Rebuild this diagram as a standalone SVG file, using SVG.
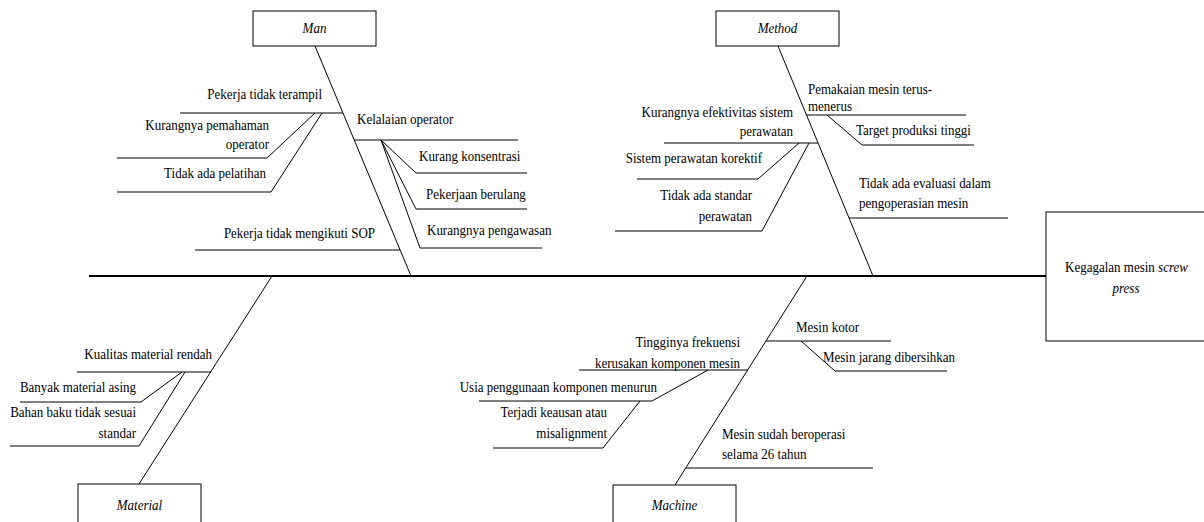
<svg xmlns="http://www.w3.org/2000/svg" width="1204" height="522" viewBox="0 0 1204 522">
<style>
text{font-family:'Liberation Serif','Times New Roman','DejaVu Serif',serif;font-size:15px;fill:#000}
.it{font-style:italic}
.e{text-anchor:end}
.m{text-anchor:middle}
.box{fill:#fff;stroke:#000;stroke-width:1}
.ln{stroke:#000;stroke-width:1;fill:none}
.main{stroke:#000;stroke-width:2;fill:none}
</style>
<rect width="1204" height="522" fill="#fff"/>
<g id="connectors">
<line class="main" x1="89" y1="276" x2="1046" y2="276"/>
<line class="ln" x1="315" y1="46" x2="411" y2="276"/>
<polyline class="ln" points="180,113 343,113"/>
<polyline class="ln" points="117,158 267,158 315,113"/>
<polyline class="ln" points="117,192 271,192 322,113"/>
<polyline class="ln" points="195,250 400,250"/>
<polyline class="ln" points="354,140 518,140"/>
<polyline class="ln" points="381,140 416,173 527,173"/>
<polyline class="ln" points="381,140 416,209 527,209"/>
<polyline class="ln" points="381,140 420,248 542,248"/>
<line class="ln" x1="778" y1="46" x2="873" y2="276"/>
<polyline class="ln" points="806,115 966,115"/>
<polyline class="ln" points="827,115 862,145 974,145"/>
<polyline class="ln" points="664,143 818,143"/>
<polyline class="ln" points="799,143 758,179 637,179"/>
<polyline class="ln" points="809,143 762,231 615,231"/>
<polyline class="ln" points="849,218 1008,218"/>
<line class="ln" x1="139" y1="484" x2="272" y2="276"/>
<polyline class="ln" points="77,372 211,372"/>
<polyline class="ln" points="182,372 141,402 20,402"/>
<polyline class="ln" points="185,372 139,446 10,446"/>
<line class="ln" x1="675" y1="485" x2="807" y2="276"/>
<polyline class="ln" points="766,341 891,341"/>
<polyline class="ln" points="801,341 835,371 947,371"/>
<polyline class="ln" points="579,370 748,370"/>
<polyline class="ln" points="708,370 652,401 479,401"/>
<polyline class="ln" points="640,401 603,448 493,448"/>
<polyline class="ln" points="686,468 873,468"/>
</g>
<g id="effect">
<rect class="box" x="1046" y="212" width="170" height="129"/>
<text class="m" transform="translate(1126.5 272) scale(0.867 1)">Kegagalan mesin <tspan class="it">screw</tspan></text>
<text class="m it" transform="translate(1126 293) scale(0.867 1)">press</text>
</g>
<g id="man">
<rect class="box" x="253" y="11" width="123" height="35"/>
<text class="m it" transform="translate(314.5 33) scale(0.867 1)">Man</text>
</g>
<g id="method">
<rect class="box" x="716" y="11" width="123" height="35"/>
<text class="m it" transform="translate(777.5 33) scale(0.867 1)">Method</text>
</g>
<g id="material">
<rect class="box" x="78" y="484" width="123" height="50"/>
<text class="m it" transform="translate(139.5 510) scale(0.867 1)">Material</text>
</g>
<g id="machine">
<rect class="box" x="613" y="485" width="123" height="50"/>
<text class="m it" transform="translate(674.5 510) scale(0.867 1)">Machine</text>
</g>
<g id="man-causes">
<text class="e" transform="translate(322 99) scale(0.867 1)">Pekerja tidak terampil</text>
<text class="e" transform="translate(269 130) scale(0.867 1)">Kurangnya pemahaman</text>
<text class="e" transform="translate(269 149) scale(0.867 1)">operator</text>
<text class="e" transform="translate(266 178) scale(0.867 1)">Tidak ada pelatihan</text>
<text class="e" transform="translate(375 238) scale(0.867 1)">Pekerja tidak mengikuti SOP</text>
<text transform="translate(357 124) scale(0.867 1)">Kelalaian operator</text>
<text transform="translate(419 161) scale(0.867 1)">Kurang konsentrasi</text>
<text transform="translate(426 199) scale(0.867 1)">Pekerjaan berulang</text>
<text transform="translate(427 235) scale(0.867 1)">Kurangnya pengawasan</text>
</g>
<g id="method-causes">
<text transform="translate(808 94) scale(0.867 1)">Pemakaian mesin terus-</text>
<text transform="translate(808 111) scale(0.867 1)">menerus</text>
<text transform="translate(856 135) scale(0.867 1)">Target produksi tinggi</text>
<text class="e" transform="translate(793 117) scale(0.867 1)">Kurangnya efektivitas sistem</text>
<text class="e" transform="translate(793 136) scale(0.867 1)">perawatan</text>
<text class="e" transform="translate(762 163) scale(0.867 1)">Sistem perawatan korektif</text>
<text class="e" transform="translate(752 200) scale(0.867 1)">Tidak ada standar</text>
<text class="e" transform="translate(752 221) scale(0.867 1)">perawatan</text>
<text transform="translate(859 188) scale(0.867 1)">Tidak ada evaluasi dalam</text>
<text transform="translate(859 208) scale(0.867 1)">pengoperasian mesin</text>
</g>
<g id="material-causes">
<text class="e" transform="translate(212 359) scale(0.867 1)">Kualitas material rendah</text>
<text class="e" transform="translate(136 392) scale(0.867 1)">Banyak material asing</text>
<text class="e" transform="translate(136 417) scale(0.867 1)">Bahan baku tidak sesuai</text>
<text class="e" transform="translate(136 438) scale(0.867 1)">standar</text>
</g>
<g id="machine-causes">
<text transform="translate(796 332) scale(0.867 1)">Mesin kotor</text>
<text transform="translate(823 362) scale(0.867 1)">Mesin jarang dibersihkan</text>
<text class="e" transform="translate(740 347) scale(0.867 1)">Tingginya frekuensi</text>
<text class="e" transform="translate(740 368) scale(0.867 1)">kerusakan komponen mesin</text>
<text class="e" transform="translate(657 392) scale(0.867 1)">Usia penggunaan komponen menurun</text>
<text class="e" transform="translate(607 417) scale(0.867 1)">Terjadi keausan atau</text>
<text class="e" transform="translate(607 438) scale(0.867 1)">misalignment</text>
<text transform="translate(722 439) scale(0.867 1)">Mesin sudah beroperasi</text>
<text transform="translate(722 459) scale(0.867 1)">selama 26 tahun</text>
</g>
</svg>
